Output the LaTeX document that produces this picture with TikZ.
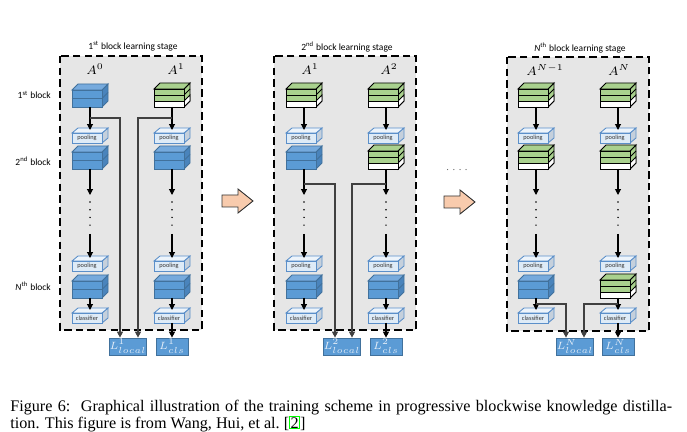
\documentclass[tikz,border=0pt]{standalone}
\usepackage{fontspec}
\setmainfont{Liberation Serif}
\newfontfamily\calib{Carlito}
\usetikzlibrary{arrows.meta}

\definecolor{stagebg}{HTML}{E6E6E6}
\definecolor{cubeblue}{HTML}{5B9BD5}
\definecolor{cubetop}{HTML}{76AADD}
\definecolor{cubeside}{HTML}{4A84BC}
\definecolor{cubeline}{HTML}{41719C}
\definecolor{cubegreen}{HTML}{A9D18E}
\definecolor{poolfill}{HTML}{DEEBF7}
\definecolor{pooltop}{HTML}{EDF4FB}
\definecolor{poolside}{HTML}{C5D0DC}
\definecolor{poolline}{HTML}{5B8FC9}
\definecolor{peach}{HTML}{F8CBAD}
\definecolor{losstext}{HTML}{E3EDF8}

\tikzset{
  stage/.style={fill=stagebg, draw=black, line width=1.3pt, dash pattern=on 4.2pt off 2.4pt},
  flow/.style={-{Triangle[length=3.4pt,width=3.4pt]}, line width=0.6pt},
  tap/.style={flow, draw=black!75},
  dotline/.style={line width=0.9pt, dash pattern=on 0pt off 4.4pt, line cap=round},
  blueedge/.style={draw=cubeline, line width=0.5pt},
  greenedge/.style={draw=black, line width=0.5pt},
  pooledge/.style={draw=poolline, line width=0.5pt},
  bluefront/.style={blueedge, fill=cubeblue, minimum width=0.6cm, minimum height=0.34cm, inner sep=0pt},
  greenfront/.style={greenedge, fill=cubegreen, minimum width=0.6cm, minimum height=0.36cm, inner sep=0pt},
  poolfront/.style={pooledge, fill=poolfill, minimum width=0.6cm, minimum height=0.2cm, inner sep=0pt,
    font=\calib\fontsize{3.6}{4}\selectfont, text=black!80},
  loss/.style={draw=cubeline, fill=cubeblue, minimum width=0.64cm, minimum height=0.34cm, inner sep=0pt,
    text=losstext, font=\fontsize{5.6}{6}\selectfont},
  title/.style={font=\calib\fontsize{5.4}{6}\selectfont},
  blocklab/.style={anchor=east, font=\calib\fontsize{5.4}{6}\selectfont},
  netlab/.style={font=\fontsize{7.5}{8}\selectfont},
  bigarr/.style={draw=black!80, fill=peach, line width=0.5pt, line join=miter},
  caption/.style={anchor=north west, inner sep=0pt, text width=13.24cm, align=justify,
    font=\fontsize{9.2}{9.3}\selectfont}
}

% blue block: name, x, y (top of front face)
\newcommand{\bluecube}[3]{%
  \filldraw[blueedge, fill=cubeside] (#2+12,#3+1) -- (#2+18,#3-5) -- (#2+18,#3+12) -- (#2+12,#3+18) -- cycle;
  \draw[blueedge] (#2+12,#3+9.5) -- (#2+18,#3+3.5);
  \filldraw[blueedge, fill=cubetop] (#2-18,#3+1) -- (#2-12,#3-5) -- (#2+18,#3-5) -- (#2+12,#3+1) -- cycle;
  \node[bluefront] (#1) at (#2-3,#3+9.5) {};
  \draw[blueedge] (#1.west) -- (#1.east);
  \coordinate (#1-s) at (#2,#3+18);
}
% green (learned) block: name, x, y
\newcommand{\greencube}[3]{%
  \filldraw[greenedge, fill=cubegreen] (#2+12,#3) -- (#2+18,#3-6) -- (#2+18,#3+12) -- (#2+12,#3+18) -- cycle;
  \filldraw[greenedge, fill=white] (#2+12,#3+12) -- (#2+18,#3+6) -- (#2+18,#3+12) -- (#2+12,#3+18) -- cycle;
  \draw[greenedge] (#2+12,#3+6) -- (#2+18,#3);
  \filldraw[greenedge, fill=cubegreen] (#2-18,#3) -- (#2-12,#3-6) -- (#2+18,#3-6) -- (#2+12,#3) -- cycle;
  \node[greenfront] (#1) at (#2-3,#3+9) {};
  \filldraw[greenedge, fill=white] (#2-18,#3+12) rectangle (#2+12,#3+18);
  \draw[greenedge] (#2-18,#3+6) -- (#2+12,#3+6);
  \coordinate (#1-s) at (#2,#3+18);
}
% flat box (pooling / classifier): name, x, y, text
\newcommand{\poolbox}[4]{%
  \filldraw[pooledge, fill=poolside] (#2+12,#3) -- (#2+18,#3-5) -- (#2+18,#3+5) -- (#2+12,#3+10) -- cycle;
  \filldraw[pooledge, fill=pooltop] (#2-18,#3) -- (#2-12,#3-5) -- (#2+18,#3-5) -- (#2+12,#3) -- cycle;
  \node[poolfront] (#1) at (#2-3,#3+5) {#4};
  \coordinate (#1-n) at (#2,#3-3);
  \coordinate (#1-s) at (#2,#3+10);
}
% one network column: prefix, x, first, second, last block colour
\newcommand{\stagecol}[5]{%
  \csname #3cube\endcsname{#1b1}{#2}{89}
  \poolbox{#1p1}{#2}{133}{pooling}
  \csname #4cube\endcsname{#1b2}{#2}{151}
  \coordinate (#1d0) at (#2,195);
  \coordinate (#1d1) at (#2,202);
  \coordinate (#1d2) at (#2,230);
  \coordinate (#1d3) at (#2,234);
  \poolbox{#1pN}{#2}{261}{pooling}
  \csname #5cube\endcsname{#1bN}{#2}{280}
  \poolbox{#1cl}{#2}{313}{classifier}
  \draw[flow] (#1b1-s) -- (#1p1-n);
  \draw[flow] (#1b2-s) -- (#1d0);
  \draw[dotline] (#1d1) -- (#1d2);
  \draw[flow] (#1d3) -- (#1pN-n);
  \draw[flow] (#1bN-s) -- (#1cl-n);
}
% fat arrow between stages: x of tail, y of middle
\newcommand{\fatarrow}[2]{%
  \filldraw[bigarr] (#1,#2-6) -- (#1+16,#2-6) -- (#1+16,#2-12) -- (#1+31,#2) -- (#1+16,#2+12)
    -- (#1+16,#2+6) -- (#1,#2+6) -- cycle;
}

\begin{document}
\begin{tikzpicture}[x=0.02cm,y=-0.02cm]
\useasboundingbox (0,0) rectangle (687,432);

% stage frames
\draw[stage] (60,56) rectangle (202,330);
\draw[stage] (274,56) rectangle (416,330);
\draw[stage] (507,57) rectangle (649,331);
\node[title] (h1) at (133,46) {1\textsuperscript{st} block learning stage};
\node[title] (h2) at (347,47) {2\textsuperscript{nd} block learning stage};
\node[title] (h3) at (580,48) {\textit{N}\textsuperscript{th} block learning stage};

% row labels
\node[blocklab] (r1) at (57,95) {1\textsuperscript{st} block};
\node[blocklab] (r2) at (57,161) {2\textsuperscript{nd} block};
\node[blocklab] (rN) at (57,286) {\textit{N}\textsuperscript{th} block};

% network names
\node[netlab] (na) at (95,69) {$A^{0}$};
\node[netlab] (nb) at (176,69) {$A^{1}$};
\node[netlab] (nc) at (310,69) {$A^{1}$};
\node[netlab] (nd) at (389,69) {$A^{2}$};
\node[netlab] (ne) at (545,70) {$A^{N-1}$};
\node[netlab] (nf) at (619,70) {$A^{N}$};

% columns
\stagecol{a}{90}{blue}{blue}{blue}
\stagecol{b}{172}{green}{blue}{blue}
\stagecol{c}{304}{green}{blue}{blue}
\stagecol{d}{386}{green}{green}{blue}
\stagecol{e}{536}{green}{green}{blue}
\stagecol{f}{618}{green}{green}{green}

% 1st stage losses
\node[loss] (la) at (128,346.5) {$L^{1}_{local}$};
\node[loss] (ka) at (172,346.5) {$L^{1}_{cls}$};
\coordinate (ja) at (90,118);  \coordinate (ta) at (120,118);
\coordinate (jb) at (172,118); \coordinate (tb) at (138,118);
\draw[tap] (ja) -- (ta) -- (ta |- la.north);
\draw[tap] (jb) -- (tb) -- (tb |- la.north);
\draw[flow] (bcl-s) -- (ka.north);

% 2nd stage losses
\node[loss] (lc) at (342,346.5) {$L^{2}_{local}$};
\node[loss] (kc) at (386,346.5) {$L^{2}_{cls}$};
\coordinate (jc) at (304,184); \coordinate (tc) at (335,184);
\coordinate (jd) at (386,184); \coordinate (td) at (352,184);
\draw[tap] (jc) -- (tc) -- (tc |- lc.north);
\draw[tap] (jd) -- (td) -- (td |- lc.north);
\draw[flow] (dcl-s) -- (kc.north);

% Nth stage losses
\node[loss] (le) at (575,346.5) {$L^{N}_{local}$};
\node[loss] (ke) at (618,346.5) {$L^{N}_{cls}$};
\coordinate (je) at (536,304); \coordinate (te) at (566,304);
\coordinate (jf) at (618,304); \coordinate (tf) at (584,304);
\draw[tap] (je) -- (te) -- (te |- le.north);
\draw[tap] (jf) -- (tf) -- (tf |- le.north);
\draw[flow] (fcl-s) -- (ke.north);

% stage to stage
\fatarrow{222}{201}
\fatarrow{444}{202}
\node[font=\fontsize{6}{6}\selectfont, text=black!60] (gap) at (457,170) {. . . .};

% caption
\node[caption] (cap) at (10,400) {Figure 6:\ \ Graphical illustration of the training scheme in progressive blockwise knowledge distilla-\break
tion. This figure is from Wang, Hui, et al.~[{\setlength{\fboxsep}{0.2pt}\setlength{\fboxrule}{0.6pt}\fcolorbox{green}{white}{2}}]};
\end{tikzpicture}
\end{document}
